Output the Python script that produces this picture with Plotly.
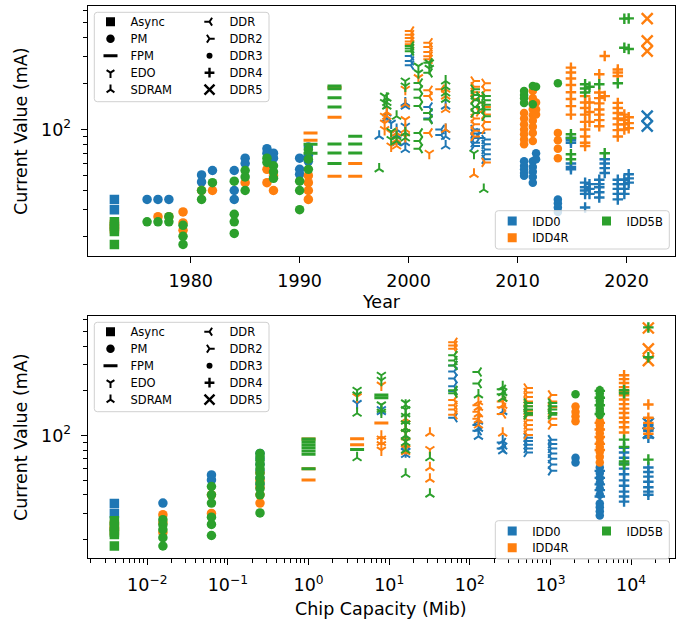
import plotly.graph_objects as go

W, H = 682, 624

SERIES = ["IDD0", "IDD4R", "IDD5B"]
SERIES_COLORS = ["#1f77b4", "#ff7f0e", "#2ca02c"]
TYPES = ["Async", "PM", "FPM", "EDO", "SDRAM", "DDR", "DDR2", "DDR3", "DDR4", "DDR5"]

# ---------- Top panel: (year, IDD0 values, IDD4R values, IDD5B values) in mA ----------
YEAR_ASYNC = [(1973, [35, 30], [24, 22.5], [25, 23.3, 21.6, 17.8])]
YEAR_PM = [
    (1976, [35], [], [25]),
    (1977, [35], [27], [25]),
    (1978, [35], [27], [27, 25]),
    (1979.3, [], [29, 24.6, 22], [23.7, 20.1, 17.8]),
    (1981, [50.5, 45.5], [40], [40, 35]),
    (1982, [54], [40], [45]),
    (1984, [54, 40, 35], [], [46, 28, 25, 21]),
    (1985, [65, 60], [45], [54, 49, 40]),
    (1987, [75, 70], [55, 45], [65, 61]),
    (1987.6, [70, 65], [50, 40], [58, 53, 48]),
    (1990, [65, 55, 51], [], [46, 40, 30]),
    (1990.8, [77, 68, 62], [50, 45, 40, 35], [74, 64, 55]),
]
YEAR_FPM = [
    (1991, [], [95, 85], [80, 70]),
    (1993.2, [], [188, 120, 49.6], [192, 184, 161, 140, 80.5, 70.3, 60]),
    (1995.1, [], [60, 49.6], [90.4, 80.5, 70.3]),
]
YEAR_EDO = [
    (1997.8, [], [122, 110, 100], [165, 150]),
    (1998.4, [110], [95, 78], [97, 86]),
    (1999.7, [105], [183, 116, 90], [207, 192]),
    (2000.9, [], [218], [259, 234]),
    (2001.9, [], [70], [272, 250]),
    (2006.0, [], [], [70]),
]
YEAR_SDRAM = [
    (1997.3, [90.4], [], [55.3]),
    (1998.0, [128, 118], [130, 122], [160, 150, 142]),
    (1998.9, [100, 92, 82], [95, 86, 78], [122, 90, 84]),
    (1999.7, [149, 142, 82, 74], [146, 100], [95, 88]),
    (2003.4, [142, 100, 90, 78], [183, 165, 135, 100], [207, 190, 173, 157]),
    (2006.0, [], [51], []),
    (2006.9, [], [], [40.6]),
]
YEAR_DDR = [
    (2000.2, [301, 280, 262], [439, 415, 395, 375, 359], [350, 337, 324]),
    (2001.0, [], [], [201, 182, 161, 142, 95, 84, 75]),
    (2001.9, [140, 128, 118], [368, 345, 320, 300, 287, 180, 165, 95], [272, 234, 128, 116]),
    (2003.0, [100, 92], [183], []),
]
YEAR_DDR2 = [
    (2006.0, [100, 94, 88, 82, 78], [207, 190, 175, 158, 128, 118, 108, 98, 90], [183, 168, 155, 140, 128]),
    (2006.5, [95, 88], [150, 130], [165, 150, 135]),
    (2007.0, [86, 80, 74, 69, 64], [200, 180, 140, 125, 112, 100, 61], [165, 155, 145, 135, 122]),
]
YEAR_DDR3 = [
    (2010.6, [62, 58, 55, 52, 50], [128, 118, 108, 100, 93, 86, 80], [178, 168, 160, 149]),
    (2011.4, [62, 57, 53, 49, 45], [178, 160, 148, 135, 124, 114, 104, 95, 84], [192, 146]),
    (2011.7, [70, 64], [150, 135, 125], [190]),
    (2013.7, [35, 33, 31, 29], [95, 85, 75, 65], [200]),
]
YEAR_DDR4 = [
    (2014.9, [88, 85, 82, 60, 57, 55], [253, 235, 215, 195, 175, 158, 142, 125], [93, 88, 69, 64]),
    (2016.2, [45, 42, 40, 38, 31], [165, 150, 138, 125, 112, 100, 90, 82, 78], [197, 185, 174]),
    (2016.6, [44, 41, 38], [150, 130, 112], [190]),
    (2017.5, [47, 44, 42, 39, 36], [229, 174, 160, 148, 135, 125, 115, 105], [197]),
    (2018.0, [64, 60, 56, 52], [301, 165], [70]),
    (2019.2, [47, 44, 41, 38, 35], [246, 235, 223, 149, 138, 128, 118, 108, 99, 90], [200]),
    (2019.8, [47, 44, 41, 38], [125, 115, 108, 100], [528, 341]),
    (2020.2, [51, 48, 45], [120, 110, 102], [530, 335]),
]
YEAR_DDR5 = [(2021.9, [122, 105], [528, 378, 324], [])]

# ---------- Bottom panel: (capacity in Mib, IDD0, IDD4R, IDD5B) ----------
CAP_ASYNC = [(4 / 1024, [35, 30], [25, 23], [26.8, 24.5, 22.5, 21.6, 18.1])]
CAP_PM = [
    (16 / 1024, [35.2], [29.4, 26, 22.3], [27.2, 25.2, 23.3, 20.6, 18.1]),
    (64 / 1024, [54.4, 50.4], [40, 30], [45.5, 40, 35.2, 28.3, 25.3, 21.3]),
    (256 / 1024, [76, 70, 64, 58, 52, 47], [56, 50, 45, 40, 35.2],
     [76, 72, 68, 64, 60, 56, 52, 48, 44, 40, 30.2]),
]
CAP_FPM = [
    (1, [], [95, 60, 50.4], [95, 91, 87, 83, 79, 75, 60]),
    (4, [], [95.5, 87], [80.7]),
    (8, [], [121.5], [188, 180]),
]
CAP_EDO = [
    (4, [165], [183], [202, 188]),
    (8, [150], [219, 95, 87, 80], [255, 236, 161, 144]),
    (16, [78], [120, 105, 92, 82], [166, 150, 135, 120, 105, 92]),
    (32, [], [80.7], []),
]
CAP_SDRAM = [
    (4, [], [], [141.6, 71]),
    (8, [145], [99, 90], [150]),
    (16, [74.7, 85], [130, 112, 98, 88, 78], [160, 140, 125, 112, 100, 90, 80, 55]),
    (32, [], [104, 60.9, 51], [71, 40.4]),
    (128, [125, 112, 99], [169, 155, 140, 128, 118], [188]),
    (256, [145, 92, 85, 79], [178, 160, 104], [213, 195, 178]),
]
CAP_DDR = [
    (64, [297, 270, 242, 215, 200, 132], [425, 404, 384, 174, 160, 150, 138], [347, 320, 297, 202, 193]),
    (128, [118, 108], [160, 145, 130], [268, 224]),
    (256, [90, 82], [170, 155, 140], [205, 190]),
]
CAP_DDR2 = [
    (512, [97, 92, 87, 82, 77], [209, 195, 182, 170, 158, 147, 137, 127, 118, 110, 101], [166, 158, 150, 142, 138]),
    (1024, [94, 88, 82, 76, 70, 64, 58], [188, 170, 155, 142, 130, 118], [166, 158, 150, 142, 138]),
]
CAP_DDR3 = [
    (2048, [71, 66], [157, 145, 135, 125], [190]),
    (4096, [61, 56, 52, 48, 44, 40, 35, 33, 31, 29], [125, 118, 111, 104, 97, 90, 84, 78, 72, 66],
     [202, 192, 182, 172, 162, 152, 145, 138]),
]
CAP_DDR4 = [
    (4096, [58, 52, 47, 43, 39], [122, 110, 98, 88, 80], [200, 180, 160, 140]),
    (8192, [83, 77, 71, 65, 60, 55, 50, 46, 42, 39, 36],
     [255, 240, 226, 212, 199, 187, 175, 163, 152, 142, 132, 123, 114, 105], [202, 193, 94, 84, 67, 64]),
    (16384, [118, 108, 97, 61, 57, 53, 49, 45, 42, 40], [162, 132, 122, 112, 103], [535, 337, 69]),
]
CAP_DDR5 = [(16384, [121, 104], [530, 384, 320], [])]

YEAR_TICKS = [1980, 1990, 2000, 2010, 2020]
Y_TICK_MAJOR = [100]
Y_TICK_MINOR = [20, 30, 40, 50, 60, 70, 80, 90, 200, 300, 400, 500, 600]
CAP_TICKS = [1e-2, 1e-1, 1e0, 1e1, 1e2, 1e3, 1e4]
CAP_TICK_TEXT = ["10<sup>\u22122</sup>", "10<sup>\u22121</sup>", "10<sup>0</sup>", "10<sup>1</sup>",
                 "10<sup>2</sup>", "10<sup>3</sup>", "10<sup>4</sup>"]

TOP = dict(zip(TYPES, [YEAR_ASYNC, YEAR_PM, YEAR_FPM, YEAR_EDO, YEAR_SDRAM,
                       YEAR_DDR, YEAR_DDR2, YEAR_DDR3, YEAR_DDR4, YEAR_DDR5]))
BOT = dict(zip(TYPES, [CAP_ASYNC, CAP_PM, CAP_FPM, CAP_EDO, CAP_SDRAM,
                       CAP_DDR, CAP_DDR2, CAP_DDR3, CAP_DDR4, CAP_DDR5]))

STYLE = {
    "Async": ("square", 9.5, 0),
    "PM": ("circle", 9.5, 0),
    "FPM": ("line-ew-open", 10, 3),
    "EDO": ("y-down-open", 7.5, 2),
    "SDRAM": ("y-up-open", 7.5, 2),
    "DDR": ("y-left-open", 7.5, 2),
    "DDR2": ("y-right-open", 7.5, 2),
    "DDR3": ("circle", 8.5, 0),
    "DDR4": ("cross-thin-open", 7.5, 2.4),
    "DDR5": ("x-thin-open", 11, 2.4),
}
LEG_SIZE = {"Async": 9, "PM": 8.5, "FPM": 10, "EDO": 6.5, "SDRAM": 6.5, "DDR": 6.5, "DDR2": 6.5,
            "DDR3": 6, "DDR4": 7, "DDR5": 10}

FONT = "DejaVu Sans"
fig = go.Figure()


def add_panel(data, xa, ya):
    for si, color in enumerate(SERIES_COLORS):
        for t in TYPES:
            xs, ys = [], []
            for row in data[t]:
                for v in row[1 + si]:
                    xs.append(row[0])
                    ys.append(v)
            if not xs:
                continue
            sym, size, lw = STYLE[t]
            fig.add_trace(go.Scatter(
                x=xs, y=ys, mode="markers", xaxis=xa, yaxis=ya, showlegend=False,
                hoverinfo="skip",
                marker=dict(symbol=sym, size=size, color=color, line=dict(width=lw, color=color))))


add_panel(TOP, "x", "y")
add_panel(BOT, "x2", "y2")


def px(x):
    return x / W


def py(y):
    return 1 - y / H


def rounded_frame(x0, y0, x1, y1, r=3):
    """Rounded legend frame (pixel coords -> paper coords)."""
    pts = [
        f"M{px(x0 + r)},{py(y0)}", f"L{px(x1 - r)},{py(y0)}",
        f"Q{px(x1)},{py(y0)} {px(x1)},{py(y0 + r)}", f"L{px(x1)},{py(y1 - r)}",
        f"Q{px(x1)},{py(y1)} {px(x1 - r)},{py(y1)}", f"L{px(x0 + r)},{py(y1)}",
        f"Q{px(x0)},{py(y1)} {px(x0)},{py(y1 - r)}", f"L{px(x0)},{py(y0 + r)}",
        f"Q{px(x0)},{py(y0)} {px(x0 + r)},{py(y0)}", "Z",
    ]
    return dict(type="path", xref="paper", yref="paper", path=" ".join(pts), layer="above",
                fillcolor="rgba(255,255,255,0.8)", line=dict(color="#d0d0d0", width=1))


# legends: one legend per entry so spacing matches
legends = {}
k = [0]


def new_legend(mx, my):
    k[0] += 1
    name = "legend" if k[0] == 1 else f"legend{k[0]}"
    legends[name] = dict(
        x=px(mx - 19.5), y=py(my), xanchor="left", yanchor="middle",
        bgcolor="rgba(0,0,0,0)", borderwidth=0,
        font=dict(family=FONT, size=11.5, color="black"),
        itemclick=False, itemdoubleclick=False)
    return name


shapes = []
for off in (0, 310):
    shapes.append(rounded_frame(94.3, 12.3 + off, 269, 101.7 + off))
    shapes.append(rounded_frame(495.3, 210.7 + off, 669.3, 249 + off))
    for i, t in enumerate(TYPES):
        col, row = divmod(i, 5)
        mx = 110 if col == 0 else 209
        my = 21.7 + 17 * row + off
        lg = new_legend(mx, my)
        sym, _, lw = STYLE[t]
        fig.add_trace(go.Scatter(
            x=[None], y=[None], mode="markers", name=t, legend=lg,
            marker=dict(symbol=sym, size=LEG_SIZE[t], color="black",
                        line=dict(width=lw if lw else 0, color="black"))))
    for si, (s, c) in enumerate(zip(SERIES, SERIES_COLORS)):
        pos = [(511.7, 221), (511.7, 237.7), (606, 221)][si]
        lg = new_legend(pos[0], pos[1] + off)
        fig.add_trace(go.Scatter(
            x=[None], y=[None], mode="markers", name=s, legend=lg,
            marker=dict(symbol="square", size=9, color=c, line=dict(width=0))))

axis_common = dict(showline=True, linecolor="black", linewidth=1.2, mirror=True, ticks="outside",
                   ticklen=6, tickwidth=1.2, tickcolor="black", showgrid=False, zeroline=False,
                   tickfont=dict(family=FONT, size=17.5, color="black"))

ylog = dict(type="log", range=[1.175, 2.805], tickvals=Y_TICK_MAJOR, ticktext=["10<sup>2</sup>"],
            ticklabelstandoff=6,
            minor=dict(tickmode="array", tickvals=Y_TICK_MINOR, ticks="outside", ticklen=3.5,
                       tickwidth=1, tickcolor="black", showgrid=False))

ann_font = dict(family=FONT, size=17.5, color="black")
layout = dict(
    width=W, height=H, margin=dict(l=0, r=0, t=0, b=0, autoexpand=False),
    paper_bgcolor="white", plot_bgcolor="white",
    xaxis=dict(domain=[px(87.7), px(675)], range=[1970.55, 2024.45], tickvals=YEAR_TICKS,
               anchor="y", ticklabelstandoff=3, **axis_common),
    yaxis=dict(domain=[py(256), py(6)], anchor="x", **ylog, **axis_common),
    xaxis2=dict(domain=[px(87.7), px(675)], type="log", range=[-2.739, 4.545], tickvals=CAP_TICKS,
                ticktext=CAP_TICK_TEXT, anchor="y2", ticklabelstandoff=5,
                minor=dict(tickmode="array",
                           tickvals=[m * 10 ** e for e in range(-3, 5) for m in range(2, 10)],
                           ticks="outside", ticklen=3.5, tickwidth=1, tickcolor="black", showgrid=False),
                **axis_common),
    yaxis2=dict(domain=[py(558.3), py(316)], anchor="x2", **ylog, **axis_common),
    shapes=shapes,
    showlegend=True,
    annotations=[
        dict(text="Current Value (mA)", x=px(21), y=py(131), xref="paper", yref="paper",
             xanchor="center", yanchor="middle", showarrow=False, textangle=-90, font=ann_font),
        dict(text="Current Value (mA)", x=px(21), y=py(437), xref="paper", yref="paper",
             xanchor="center", yanchor="middle", showarrow=False, textangle=-90, font=ann_font),
        dict(text="Year", x=px(381.4), y=py(302), xref="paper", yref="paper",
             xanchor="center", yanchor="middle", showarrow=False, font=ann_font),
        dict(text="Chip Capacity (Mib)", x=px(381.4), y=py(609), xref="paper", yref="paper",
             xanchor="center", yanchor="middle", showarrow=False, font=ann_font),
    ],
)
layout.update(legends)
fig.update_layout(**layout)
fig.write_html("out.html", config={"displayModeBar": False},
               post_script="document.body.style.margin='0px';")
